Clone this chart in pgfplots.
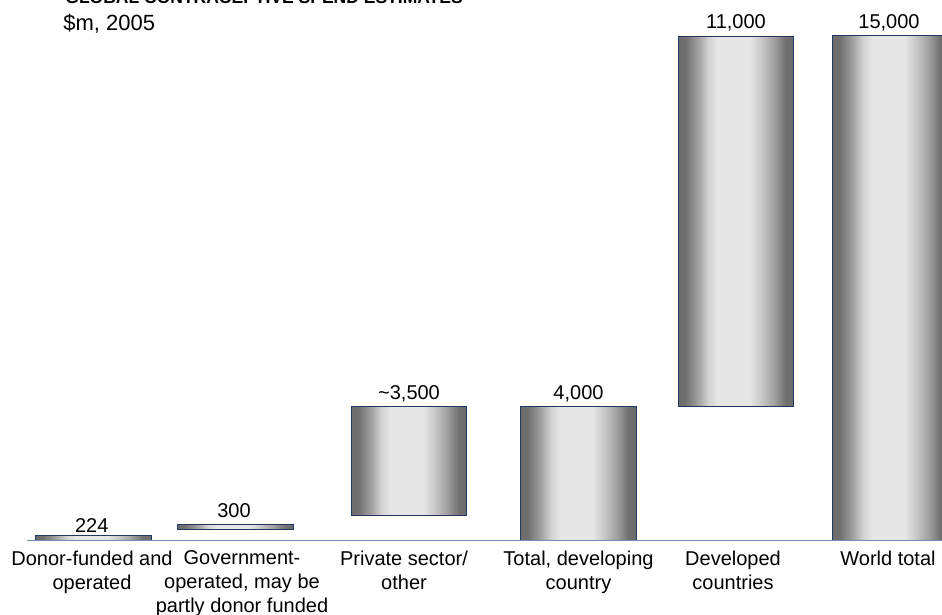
\documentclass[border=0pt]{standalone}
\usepackage{fontspec}
\setmainfont{Liberation Sans}
\usepackage{pgfplots}
\pgfplotsset{compat=1.18}

\definecolor{bardark}{HTML}{6B6B6B}
\definecolor{bardk2}{HTML}{707070}
\definecolor{barmid}{HTML}{A0A0A0}
\definecolor{barmid2}{HTML}{D2D2D2}
\definecolor{barlight}{HTML}{E6E6E6}
\definecolor{barmid3}{HTML}{C8C8C8}
\definecolor{barline}{HTML}{1F3864}
\definecolor{axisblue}{HTML}{6F8FB8}

% horizontal gradient: dark edges, light centre
\pgfdeclarehorizontalshading{barshade}{100bp}{color(0bp)=(bardark); color(25bp)=(bardark); color(28bp)=(bardk2); color(33.5bp)=(barmid); color(38bp)=(barmid2); color(42bp)=(barlight); color(56bp)=(barlight); color(61bp)=(barmid3); color(66.5bp)=(barmid); color(71.5bp)=(bardk2); color(75bp)=(bardark); color(100bp)=(bardark)}

\begin{document}
\begin{tikzpicture}
\begin{axis}[
    at={(0,0)}, anchor=south west,
    scale only axis,
    width=471pt, height=307.5pt,
    xmin=0, xmax=942,
    ymin=-2211, ymax=16039,
    hide axis,
    clip=false,
    bar/.style={draw=barline, line width=0.5pt, shading=barshade, shade},
]
% floating bars: x from/to (px), y from/to ($m)
\addplot[bar] coordinates {(35.75,0) (35.75,160) (151.25,160) (151.25,0)} -- cycle;
\addplot[bar] coordinates {(177.75,340) (177.75,480) (293.25,480) (293.25,340)} -- cycle;
\addplot[bar] coordinates {(351.25,745) (351.25,3965) (466.75,3965) (466.75,745)} -- cycle;
\addplot[bar] coordinates {(520.75,0) (520.75,3990) (636.25,3990) (636.25,0)} -- cycle;
\addplot[bar] coordinates {(678.25,3990) (678.25,14970) (793.75,14970) (793.75,3990)} -- cycle;
\addplot[bar] coordinates {(832.75,0) (832.75,15000) (948.25,15000) (948.25,0)} -- cycle;

\draw[color=axisblue, line width=0.7pt] (axis cs:27,0) -- (axis cs:942,0);

% value labels
\begin{scope}[every node/.style={font=\fontsize{10}{12}\selectfont, anchor=base, inner sep=0pt}]
\node[yshift=1.5pt] at (axis cs:91.7,160) {224};
\node[yshift=3.6pt] at (axis cs:234,480) {300};
\node[yshift=3.5pt] at (axis cs:409,3965) {\textasciitilde3,500};
\node[yshift=3.5pt] at (axis cs:578.5,3990) {4,000};
\node[yshift=3.8pt] at (axis cs:736,14970) {11,000};
\node[yshift=3.4pt] at (axis cs:889,15000) {15,000};
\end{scope}

% category labels
\begin{scope}[every node/.style={font=\fontsize{10}{12}\selectfont, anchor=north, align=center, inner sep=0pt, yshift=-5pt}]
\node at (axis cs:92,0) {Donor-funded and\\operated};
\node at (axis cs:242,0) {Government-\\operated, may be\\partly donor funded};
\node at (axis cs:404,0) {Private sector/\\other};
\node at (axis cs:578.5,0) {Total, developing\\country};
\node at (axis cs:733,0) {Developed\\countries};
\node at (axis cs:888,0) {World total};
\end{scope}

% title (cut off at the top, as in the original) and unit line
\node[anchor=base west, inner sep=0pt, font=\fontsize{8.75}{10}\selectfont\bfseries]
  at (rel axis cs:0.069,0.9943) {GLOBAL CONTRACEPTIVE SPEND ESTIMATES};
\node[anchor=base west, inner sep=0pt, font=\fontsize{11}{13}\selectfont]
  at (rel axis cs:0.0669,0.9496) {\$m, 2005};
\end{axis}
\pgfresetboundingbox
\path[use as bounding box] (0,0) rectangle (471pt,307.5pt);
\end{tikzpicture}
\end{document}
